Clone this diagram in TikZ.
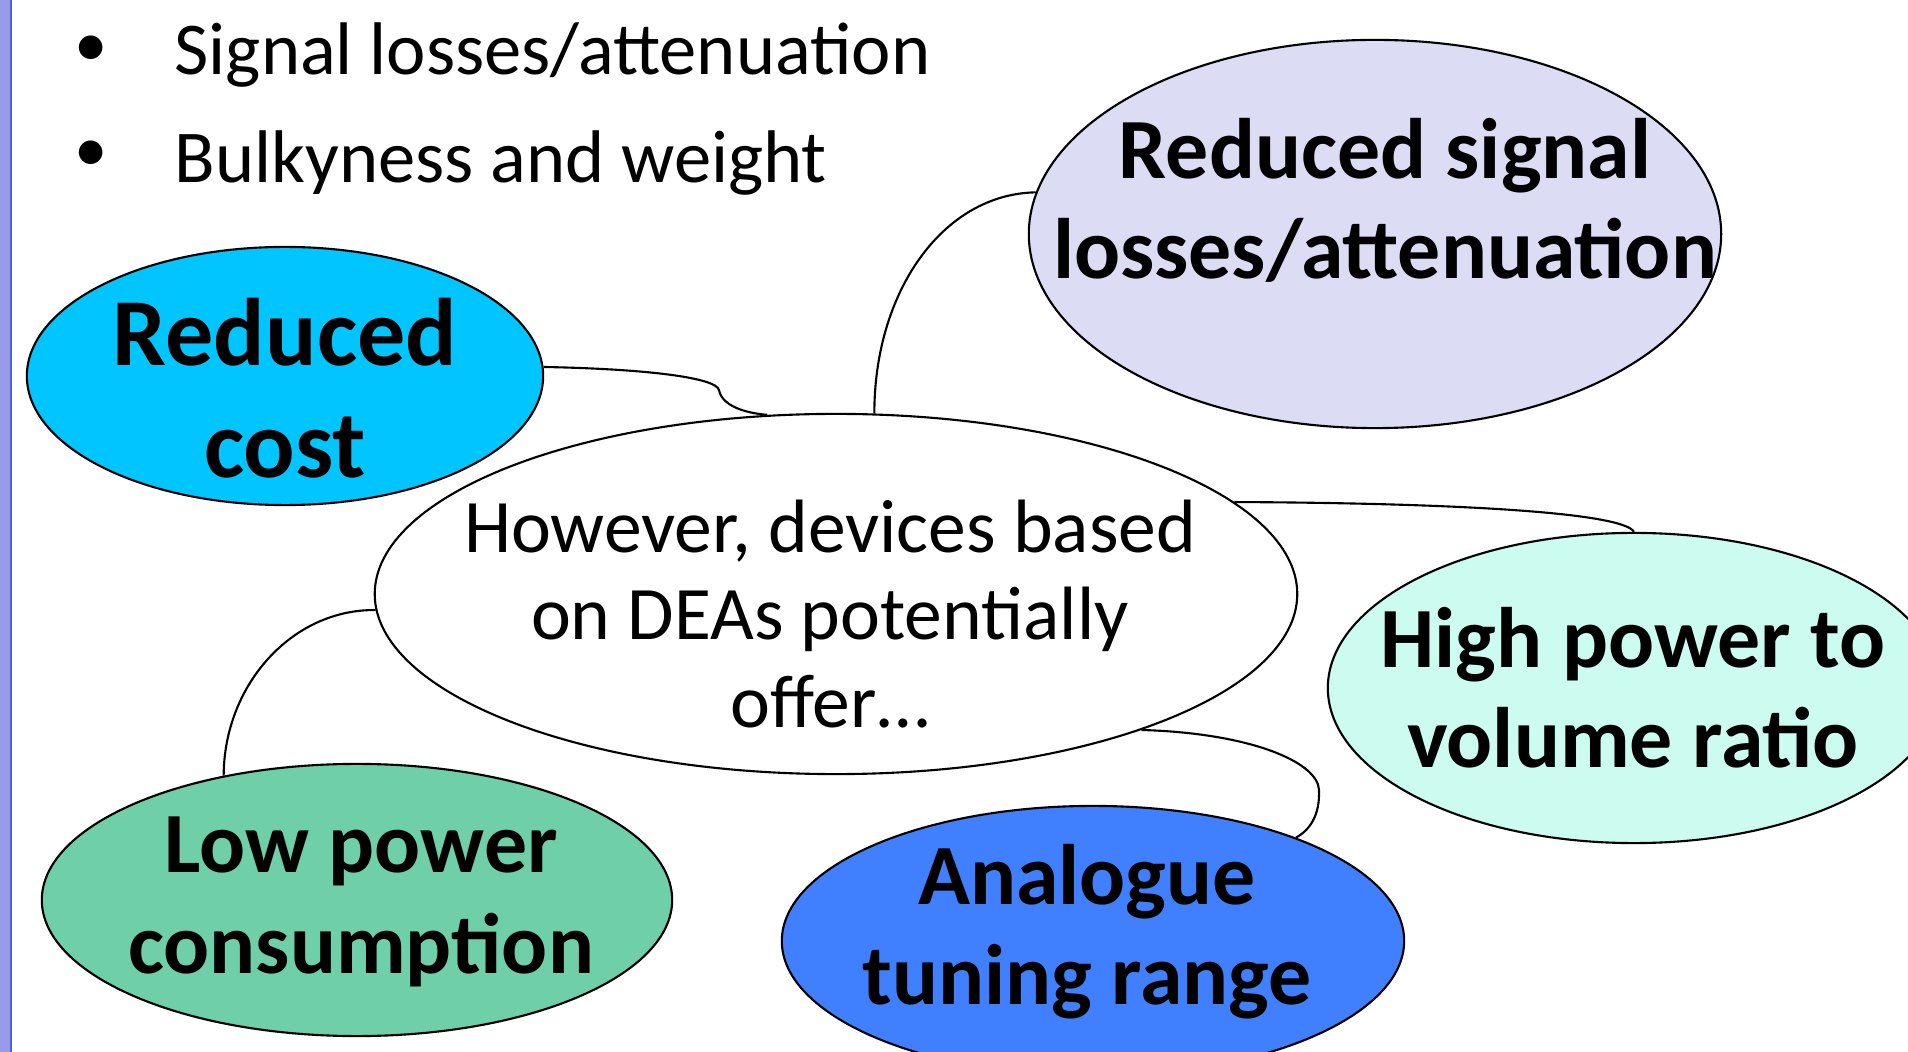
\documentclass[tikz,border=0pt]{standalone}
\usepackage{fontspec}
\setmainfont{Carlito}
\usetikzlibrary{shapes.geometric}

\definecolor{barpurple}{RGB}{152,156,232}
\definecolor{barline}{RGB}{82,92,222}
\definecolor{costfill}{RGB}{0,197,255}
\definecolor{signalfill}{RGB}{220,220,245}
\definecolor{ratiofill}{RGB}{204,252,240}
\definecolor{lowfill}{RGB}{111,207,169}
\definecolor{tunefill}{RGB}{64,128,255}

\begin{document}
\begin{tikzpicture}[x=0.01cm, y=-0.01cm,
 bubble/.style={ellipse, draw, line width=0.6pt, inner sep=0pt},
 link/.style={line width=0.6pt},
 bigtext/.style={font=\fontsize{24.4}{28.5}\selectfont\bfseries, align=center},
 listtext/.style={font=\fontsize{21.2}{26}\selectfont, anchor=base west, inner sep=0pt}]
 \useasboundingbox (0,0) rectangle (1908,1052);
 % left margin bar
 \fill[barpurple] (0,0) rectangle (10,1052);
 \fill[barline] (10,0) rectangle (12,1052);

 % bullet list
 \node[listtext] (item1) at (174,75) {Signal losses/attenuation};
 \node[listtext] (item2) at (174,183) {Bulkyness and weight};
 \node[font=\fontsize{19}{22}\selectfont] (dot1) at (91,51) {\textbullet};
 \node[font=\fontsize{19}{22}\selectfont] (dot2) at (91,156) {\textbullet};

 % bubbles
 \node[bubble, fill=white, minimum width=9.22cm, minimum height=3.6cm] (hub) at (836,594) {};
 \node[bubble, fill=costfill, minimum width=5.16cm, minimum height=2.58cm] (cost) at (285,376) {};
 \node[bubble, fill=signalfill, minimum width=6.92cm, minimum height=3.88cm] (signal) at (1375,234) {};
 \node[bubble, fill=ratiofill, minimum width=6.12cm, minimum height=3.10cm] (ratio) at (1634,688) {};
 \node[bubble, fill=lowfill, minimum width=6.30cm, minimum height=2.72cm] (low) at (357,900) {};
 \node[bubble, fill=tunefill, minimum width=6.22cm, minimum height=2.70cm] (tune) at (1093,941) {};

 % texts
 \node[font=\fontsize{21.5}{25}\selectfont, align=center] (hubtext) at (830,614)
  {However, devices based\\on DEAs potentially\\offer\dots};
 \node[font=\fontsize{27.3}{31.9}\selectfont\bfseries, align=center] (costtext) at (285,388) {Reduced\\cost};
 \node[bigtext] (signaltext) at (1385,200) {Reduced signal\\losses/attenuation};
 \node[bigtext] (ratiotext) at (1633,688) {High power to\\volume ratio};
 \node[bigtext] (lowtext) at (361,902) {Low power\\consumption};
 \node[bigtext] (tunetext) at (1087,932) {Analogue\\tuning range};

 % connectors
 \draw[link] (cost.2) .. controls (650,369) and (716,378) .. (719,390)
  .. controls (722,406) and (745,413) .. (hub.111);
 \draw[link] (hub.78) .. controls (874,293) and (942,194) .. (signal.173);
 \draw[link] (hub.13) .. controls (1450,503) and (1622,512) .. (ratio.north);
 \draw[link] (hub.-24) .. controls (1250,733) and (1318,762) .. (1319,790)
  .. controls (1320,815) and (1310,830) .. (tune.27);
 \draw[link] (hub.182) .. controls (292,609) and (224,685) .. (low.137);
\end{tikzpicture}
\end{document}
